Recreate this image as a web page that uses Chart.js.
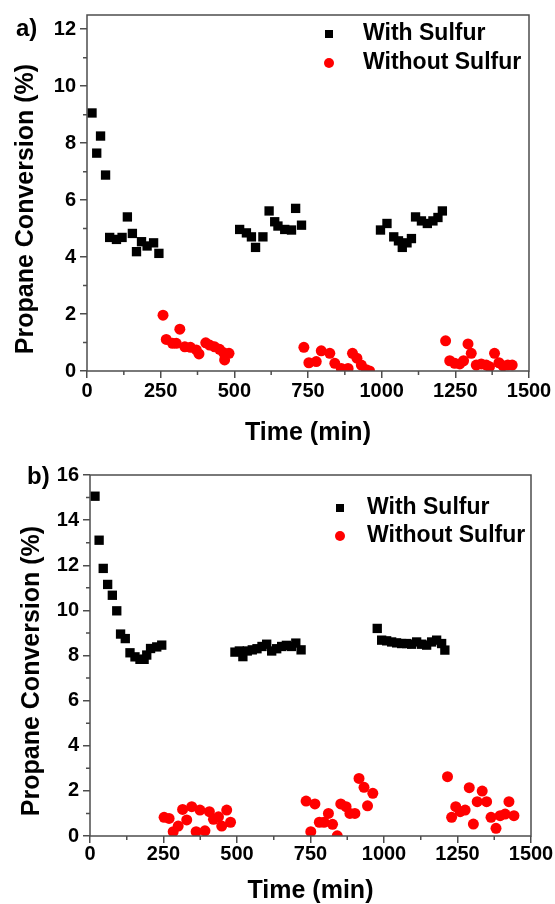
<!DOCTYPE html>
<html><head><meta charset="utf-8">
<script src="https://cdn.jsdelivr.net/npm/chart.js@4/dist/chart.umd.min.js"></script>
<style>
html,body{margin:0;padding:0;background:#fff;width:555px;height:904px;overflow:hidden;}
canvas{position:absolute;left:0;}
#ca{top:0;} #cb{top:450px;}
</style></head><body>
<canvas id="ca" width="555" height="450"></canvas>
<canvas id="cb" width="555" height="454"></canvas>
<script>
// ---------- data ----------
const seriesLabels = ['With Sulfur', 'Without Sulfur'];
const xTitle = 'Time (min)';
const yTitle = 'Propane Conversion (%)';
const panelLabels = ['a)', 'b)'];

const xTicks = [0, 250, 500, 750, 1000, 1250, 1500];
const xMinor = [125, 375, 625, 875, 1125, 1375];
const yTicksA = [0, 2, 4, 6, 8, 10, 12];
const yMinorA = [1, 3, 5, 7, 9, 11];
const yTicksB = [0, 2, 4, 6, 8, 10, 12, 14, 16];
const yMinorB = [1, 3, 5, 7, 9, 11, 13, 15];

// panel a
const aWithTime = [17,33,46,63,77,100,119,137,154,168,185,204,226,244,
  518,541,558,572,597,618,637,648,671,694,708,728,
  996,1018,1041,1057,1070,1086,1101,1115,1135,1155,1174,1191,1206];
const aWithConv = [9.06,7.65,8.25,6.88,4.69,4.62,4.69,5.41,4.83,4.19,4.54,4.39,4.50,4.13,
  4.97,4.85,4.71,4.34,4.71,5.62,5.24,5.09,4.97,4.95,5.71,5.12,
  4.95,5.18,4.71,4.57,4.34,4.50,4.65,5.41,5.27,5.18,5.27,5.39,5.62];
const aWithoutTime = [258,269,290,303,315,332,351,371,380,403,416,433,450,464,467,482,
  736,753,778,795,824,841,863,886,901,916,931,948,959,
  1217,1231,1248,1265,1278,1293,1304,1321,1338,1355,1366,1383,1398,1412,1428,1443];
const aWithoutConv = [1.96,1.11,0.97,0.97,1.47,0.85,0.83,0.74,0.60,0.99,0.91,0.85,0.76,0.64,0.39,0.62,
  0.83,0.29,0.33,0.71,0.62,0.27,0.09,0.09,0.62,0.45,0.21,0.04,0.0,
  1.06,0.36,0.27,0.25,0.36,0.95,0.62,0.21,0.25,0.21,0.15,0.62,0.29,0.18,0.21,0.21];

// panel b
const bWithTime = [17,31,45,60,76,91,104,120,136,153,170,184,193,206,227,244,
  493,508,520,535,552,568,585,601,618,635,652,668,685,700,718,
  977,992,1009,1026,1043,1060,1077,1094,1111,1128,1145,1162,1179,1196,1207];
const bWithConv = [15.06,13.11,11.86,11.15,10.67,9.98,8.95,8.75,8.12,7.94,7.83,7.83,8.02,8.31,8.38,8.46,
  8.15,8.2,7.95,8.2,8.25,8.3,8.4,8.5,8.2,8.3,8.4,8.45,8.4,8.55,8.25,
  9.2,8.68,8.65,8.6,8.56,8.53,8.53,8.5,8.6,8.5,8.46,8.6,8.68,8.53,8.24];
const bWithoutTime = [252,269,283,300,315,329,346,361,374,391,406,420,437,448,465,478,
  735,751,765,780,796,811,825,841,853,871,884,901,915,932,944,962,
  1216,1230,1244,1259,1276,1290,1304,1317,1334,1349,1364,1381,1395,1412,1425,1442];
const bWithoutConv = [0.83,0.78,0.19,0.44,1.18,0.71,1.30,0.19,1.15,0.23,1.08,0.74,0.85,0.44,1.15,0.61,
  1.55,0.19,1.42,0.61,0.61,1.0,0.52,0.01,1.42,1.30,1.0,1.0,2.55,2.16,1.34,1.89,
  2.63,0.83,1.30,1.08,1.15,2.14,0.53,1.52,1.99,1.52,0.83,0.34,0.90,0.97,1.52,0.90];

// ---------- helpers ----------
const FONT = "'Liberation Sans', Arial, Helvetica, sans-serif";
const AXIS = '#4d4d4d';
const pts = (xs, ys) => xs.map((x, i) => ({x: x, y: ys[i]}));

function makeChart(canvasId, cfg) {
  const framePlugin = {
    id: 'frame_' + canvasId,
    afterDatasetsDraw(chart) {
      const ctx = chart.ctx, a = chart.chartArea;
      const xs = chart.scales.x, ys = chart.scales.y;
      ctx.save();
      ctx.strokeStyle = AXIS;
      ctx.lineWidth = 1.5;
      ctx.strokeRect(a.left, a.top, a.right - a.left, a.bottom - a.top);
      ctx.beginPath();
      cfg.xMinor.forEach(v => {
        const p = xs.getPixelForValue(v);
        ctx.moveTo(p, a.bottom); ctx.lineTo(p, a.bottom + 4);
      });
      cfg.yMinor.forEach(v => {
        const p = ys.getPixelForValue(v);
        ctx.moveTo(a.left, p); ctx.lineTo(a.left - 4, p);
      });
      ctx.stroke();
      ctx.restore();
    },
    afterDraw(chart) {
      const ctx = chart.ctx;
      ctx.save();
      ctx.fillStyle = '#000';
      // y title
      ctx.save();
      ctx.translate(cfg.yTitlePos[0], cfg.yTitlePos[1]);
      ctx.rotate(-Math.PI / 2);
      ctx.font = 'bold 25px ' + FONT;
      ctx.textAlign = 'center';
      ctx.textBaseline = 'middle';
      ctx.fillText(yTitle, 0, 0);
      ctx.restore();
      // panel label
      ctx.font = 'bold 24px ' + FONT;
      ctx.textAlign = 'left';
      ctx.textBaseline = 'middle';
      ctx.fillText(cfg.panel, cfg.panelPos[0], cfg.panelPos[1]);
      // legend
      const lg = cfg.legend;
      chart.data.datasets.forEach((ds, i) => {
        const cy = lg.y + i * lg.gap;
        ctx.fillStyle = ds.backgroundColor;
        if (ds.pointStyle === 'rect') {
          ctx.fillRect(lg.x - 4, cy - 4, 8, 8);
        } else {
          ctx.beginPath(); ctx.arc(lg.x, cy, 5, 0, Math.PI * 2); ctx.fill();
        }
        ctx.fillStyle = '#000';
        ctx.font = 'bold ' + lg.size + 'px ' + FONT;
        ctx.fillText(ds.label, lg.tx, cy);
      });
      ctx.restore();
    }
  };

  return new Chart(document.getElementById(canvasId), {
    type: 'scatter',
    data: {
      datasets: [
        {label: seriesLabels[0], data: cfg.withData, pointStyle: 'rect', pointRadius: 6.6,
         pointHoverRadius: 6.6, backgroundColor: '#000000', borderColor: '#000000', pointBorderWidth: 0, clip: 0},
        {label: seriesLabels[1], data: cfg.withoutData, pointStyle: 'circle', pointRadius: 5.5,
         pointHoverRadius: 5.5, backgroundColor: '#ff0000', borderColor: '#ff0000', pointBorderWidth: 0, clip: 0}
      ]
    },
    options: {
      responsive: false,
      animation: false,
      events: [],
      layout: {padding: cfg.padding},
      plugins: {legend: {display: false}, tooltip: {enabled: false}, title: {display: false}},
      scales: {
        x: {
          type: 'linear', min: 0, max: 1500,
          afterBuildTicks: s => { s.ticks = xTicks.map(v => ({value: v})); },
          afterFit: s => { s.height = cfg.xHeight; },
          border: {display: false},
          grid: {drawOnChartArea: false, drawTicks: true, tickLength: 7, color: AXIS, lineWidth: 1.5},
          ticks: {color: '#000', padding: cfg.xTickPad, maxRotation: 0, autoSkip: false,
                  callback: v => String(v),
                  font: {family: FONT, size: 20, weight: 'bold', lineHeight: 1}},
          title: {display: true, text: xTitle, color: '#000', padding: {top: 0, bottom: cfg.xTitlePad},
                  font: {family: FONT, size: 25, weight: 'bold', lineHeight: 1}}
        },
        y: {
          type: 'linear', min: 0, max: cfg.yMax,
          afterBuildTicks: s => { s.ticks = cfg.yTicks.map(v => ({value: v})); },
          afterFit: s => { s.width = cfg.yWidth; },
          border: {display: false},
          grid: {drawOnChartArea: false, drawTicks: true, tickLength: 7, color: AXIS, lineWidth: 1.5},
          ticks: {color: '#000', padding: 4, autoSkip: false,
                  callback: v => String(v),
                  font: {family: FONT, size: 20, weight: 'bold', lineHeight: 1}}
        }
      }
    },
    plugins: [framePlugin]
  });
}

makeChart('ca', {
  withData: pts(aWithTime, aWithConv), withoutData: pts(aWithoutTime, aWithoutConv),
  yMax: 12.5, yTicks: yTicksA, yMinor: yMinorA, xMinor: xMinor,
  padding: {left: 0, top: 15, right: 26, bottom: 0},
  yWidth: 87, xHeight: 79, xTickPad: 3, xTitlePad: 4.5,
  yTitlePos: [26, 209], panel: panelLabels[0], panelPos: [16, 29],
  legend: {x: 329, y: 34, gap: 29, tx: 363, size: 23}
});

makeChart('cb', {
  withData: pts(bWithTime, bWithConv), withoutData: pts(bWithoutTime, bWithoutConv),
  yMax: 16, yTicks: yTicksB, yMinor: yMinorB, xMinor: xMinor,
  padding: {left: 0, top: 25, right: 24, bottom: 0},
  yWidth: 90, xHeight: 68, xTickPad: 1, xTitlePad: 0.5,
  yTitlePos: [32, 221], panel: panelLabels[1], panelPos: [27, 27],
  legend: {x: 340, y: 58, gap: 28, tx: 367, size: 23}
});
</script>
</body></html>
